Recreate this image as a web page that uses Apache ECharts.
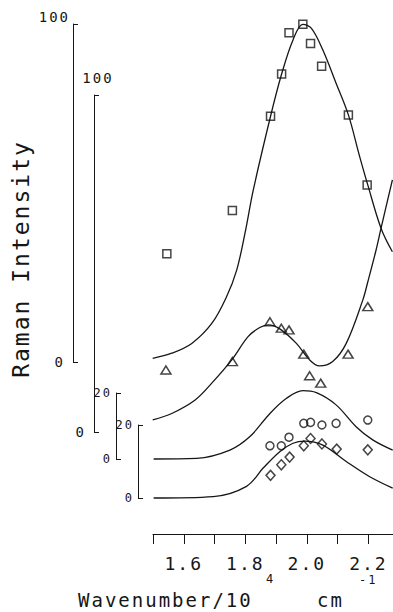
<!DOCTYPE html>
<html>
<head>
<meta charset="utf-8">
<script src="https://cdn.jsdelivr.net/npm/echarts@6/dist/echarts.min.js"></script>
<style>
  html, body { margin: 0; padding: 0; background: #fff; }
  #chart { width: 393px; height: 612px; }
  #chart text { letter-spacing: 2px; }
</style>
</head>
<body>
<div id="chart"></div>
<script>
  // x: wavenumber / 10^4 cm-1
  var xTickValues = [1.5, 1.6, 1.7, 1.8, 1.9, 2.0, 2.1, 2.2];
  var xTickLabels = ['1.6', '1.8', '2.0', '2.2'];

  // squares (top trace, 0..100)
  var squarePts = [[1.545, 32.0], [1.758, 44.8], [1.882, 72.7], [1.918, 85.2], [1.942, 97.4],
    [1.987, 99.9], [2.012, 94.2], [2.048, 87.5], [2.135, 73.1], [2.196, 52.4]];
  var squareCurve = [[1.499, 1.1], [1.561, 2.6], [1.626, 5.5], [1.691, 11.4], [1.739, 19.3],
    [1.772, 27.2], [1.799, 38.1], [1.826, 50.9], [1.882, 72.7], [1.918, 85.2], [1.955, 95.3],
    [1.987, 99.9], [2.015, 98.7], [2.052, 92.3], [2.095, 82.5], [2.135, 73.1], [2.171, 61.0],
    [2.198, 52.4], [2.241, 39.6], [2.278, 32.6]];

  // triangles (second trace, 0..100)
  var triPts = [[1.542, 18.4], [1.758, 20.9], [1.880, 32.7], [1.917, 30.8], [1.942, 30.3],
    [1.990, 23.1], [2.009, 16.7], [2.045, 14.5], [2.134, 23.1], [2.198, 37.2]];
  var triCurve = [[1.499, 3.6], [1.561, 5.5], [1.637, 9.5], [1.691, 14.5], [1.756, 21.4],
    [1.809, 28.3], [1.847, 31.0], [1.875, 31.8], [1.912, 30.6], [1.966, 26.3], [2.009, 21.4],
    [2.041, 19.6], [2.084, 20.9], [2.128, 26.3], [2.182, 39.2], [2.198, 44.5], [2.225, 54.0],
    [2.241, 60.4], [2.278, 74.8]];

  // circles (third trace, 0..20)
  var circlePts = [[1.880, 4.0], [1.917, 4.0], [1.942, 6.6], [1.990, 10.8], [2.012, 11.1],
    [2.049, 10.3], [2.095, 10.8], [2.198, 11.8]];
  var circleCurve = [[1.502, 0], [1.642, 0.2], [1.750, 2.7], [1.815, 6.8], [1.880, 13.8],
    [1.934, 18.4], [1.987, 20.7], [2.031, 20.1], [2.095, 16.4], [2.160, 9.8], [2.214, 5.8],
    [2.279, 2.7]];

  // diamonds (bottom trace, 0..20)
  var diamondPts = [[1.882, 6.2], [1.917, 9.1], [1.944, 11.2], [1.990, 14.3], [2.012, 16.3],
    [2.049, 14.8], [2.097, 13.4], [2.198, 13.2]];
  var diamondCurve = [[1.502, 0], [1.696, 0.4], [1.804, 3.2], [1.858, 8.2], [1.912, 12.7],
    [1.955, 15.0], [1.993, 15.6], [2.052, 14.5], [2.128, 10.0], [2.203, 5.9], [2.279, 2.7]];

  var yTicksBig = ['0', '100'];
  var yTicksSmall = ['0', '20'];

  var FONT = "'DejaVu Sans Mono', monospace";
  var INK = '#161616';

  var grids = [
    { left: 153, right: 0, top: 24, height: 338, outerBoundsMode: 'none' },
    { left: 153, right: 0, top: 95, height: 337, outerBoundsMode: 'none' },
    { left: 153, right: 0, top: 393, height: 66, outerBoundsMode: 'none' },
    { left: 153, right: 0, top: 425, height: 73, outerBoundsMode: 'none' }
  ];

  function xAxisFor(i, visible) {
    return {
      type: 'value', gridIndex: i, min: 1.5, max: 2.28,
      show: visible, offset: 36,
      axisLine: { show: true, onZero: false, lineStyle: { color: INK, width: 1 } },
      axisTick: { show: true, inside: false, length: 10, customValues: xTickValues,
        lineStyle: { color: INK, width: 1 } },
      axisLabel: {
        show: true, margin: 20, fontSize: 18, fontFamily: FONT, color: INK,
        customValues: xTickLabels.map(Number),
        formatter: function (v) { return v.toFixed(1); }
      },
      splitLine: { show: false }
    };
  }

  function yAxisFor(i, max, offset, ticks, margin, size, topName) {
    var ax = {
      type: 'value', gridIndex: i, min: 0, max: max, offset: offset,
      axisLine: { show: true, onZero: false, lineStyle: { color: INK, width: 1 } },
      axisTick: { show: true, inside: true, length: 5, customValues: ticks.map(Number),
        lineStyle: { color: INK, width: 1 } },
      axisLabel: { show: true, margin: margin, fontSize: size, fontFamily: FONT, color: INK,
        customValues: (topName ? ticks.slice(0, 1) : ticks).map(Number) },
      splitLine: { show: false }
    };
    if (topName) {
      ax.name = ticks[ticks.length - 1];
      ax.nameLocation = 'end';
      ax.nameGap = topName.gap;
      ax.nameTextStyle = { fontSize: size, fontFamily: FONT, color: INK,
        align: topName.align, verticalAlign: 'bottom', padding: topName.padding };
    }
    return ax;
  }

  function curve(i, data) {
    return { type: 'line', xAxisIndex: i, yAxisIndex: i, data: data, smooth: 0.35,
      symbol: 'none', clip: false, silent: true,
      lineStyle: { color: INK, width: 1.3 } };
  }
  function points(i, data, symbol, size) {
    return { type: 'scatter', xAxisIndex: i, yAxisIndex: i, data: data, symbol: symbol,
      symbolSize: size, clip: false, silent: true,
      itemStyle: { color: 'rgba(0,0,0,0)', borderColor: INK, borderWidth: 1.5 } };
  }

  var chart = echarts.init(document.getElementById('chart'), null, { renderer: 'svg' });
  chart.setOption({
    backgroundColor: '#fff',
    animation: false,
    grid: grids,
    xAxis: [xAxisFor(0, false), xAxisFor(1, false), xAxisFor(2, false), xAxisFor(3, true)],
    yAxis: [
      yAxisFor(0, 100, 80, yTicksBig, 8, 14, { gap: 0, align: 'right', padding: [0, 3, 0, 0] }),
      yAxisFor(1, 100, 59, yTicksBig, 8, 14, { gap: 10, align: 'center', padding: [0, 0, 0, 8] }),
      yAxisFor(2, 20, 37, yTicksSmall, 4, 12),
      yAxisFor(3, 20, 15, yTicksSmall, 4, 12)
    ],
    series: [
      curve(0, squareCurve), points(0, squarePts, 'rect', 8),
      curve(1, triCurve), points(1, triPts, 'triangle', [10, 8]),
      curve(2, circleCurve), points(2, circlePts, 'circle', 8),
      curve(3, diamondCurve), points(3, diamondPts, 'diamond', [9, 10])
    ],
    graphic: [
      { type: 'text', x: 21, y: 259, rotation: Math.PI / 2, silent: true,
        style: { text: 'Raman Intensity', fontSize: 23, fontFamily: FONT, fill: INK,
          align: 'center', verticalAlign: 'middle' } },
      { type: 'text', x: 78, y: 600, silent: true,
        style: { text: 'Wavenumber/10', fontSize: 19, fontFamily: FONT, fill: INK,
          align: 'left', verticalAlign: 'middle' } },
      { type: 'text', x: 266, y: 579, silent: true,
        style: { text: '4', fontSize: 12, fontFamily: FONT, fill: INK,
          align: 'left', verticalAlign: 'middle' } },
      { type: 'text', x: 317, y: 600, silent: true,
        style: { text: 'cm', fontSize: 19, fontFamily: FONT, fill: INK,
          align: 'left', verticalAlign: 'middle' } },
      { type: 'text', x: 359, y: 580, silent: true,
        style: { text: '-1', fontSize: 12, fontFamily: FONT, fill: INK,
          align: 'left', verticalAlign: 'middle' } }
    ]
  });
</script>
</body>
</html>
